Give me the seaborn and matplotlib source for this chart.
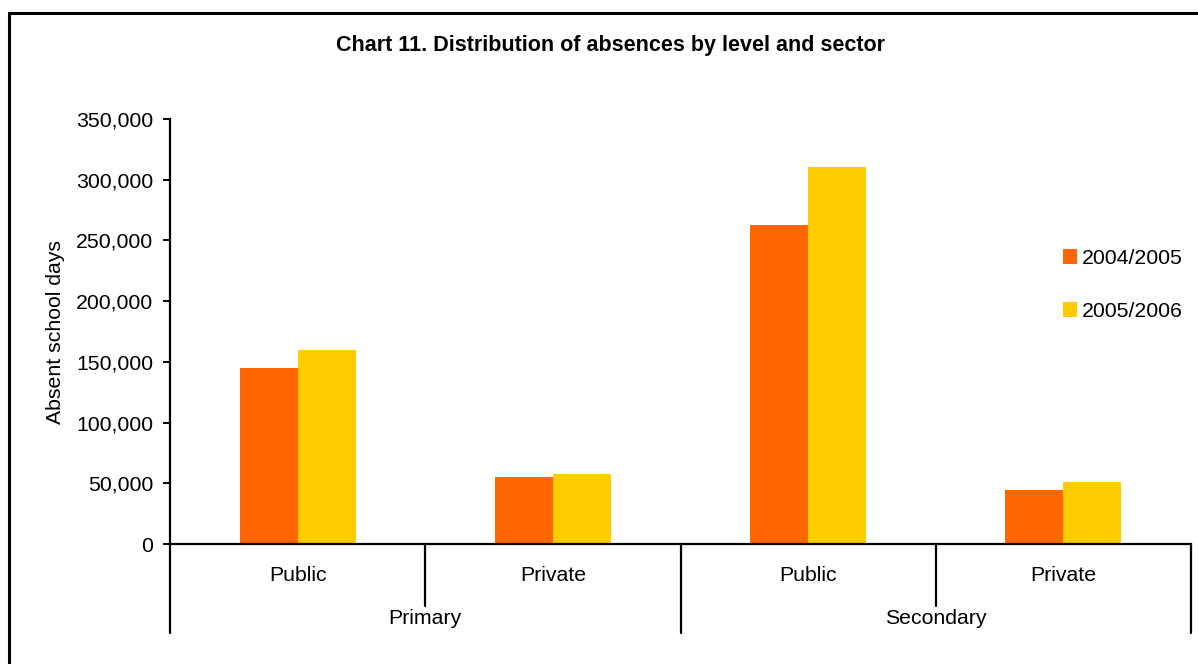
import matplotlib
matplotlib.use("Agg")
import matplotlib.pyplot as plt
import matplotlib.ticker as mticker
from matplotlib.patches import Rectangle
import seaborn as sns
import pandas as pd

# ---- data ----
levels = ["Primary", "Primary", "Secondary", "Secondary"]
sectors = ["Public", "Private", "Public", "Private"]
years = ["2004/2005", "2005/2006"]
values_2004_2005 = [145000, 55000, 263000, 44500]
values_2005_2006 = [160000, 57800, 310500, 51000]
group_labels = ["Primary", "Secondary"]
title = "Chart 11. Distribution of absences by level and sector"
ylabel = "Absent school days"
colors = ["#FF6600", "#FFCC00"]

keys = [f"{l} {s}" for l, s in zip(levels, sectors)]
df = pd.DataFrame({
    "key": keys * 2,
    "year": [years[0]] * 4 + [years[1]] * 4,
    "value": values_2004_2005 + values_2005_2006,
})

sns.set_style("white")
plt.rcParams["font.family"] = ["Liberation Sans", "DejaVu Sans"]
plt.rcParams["text.color"] = "black"
plt.rcParams["axes.labelcolor"] = "black"
plt.rcParams["xtick.color"] = "black"
plt.rcParams["ytick.color"] = "black"

FS = 15.3
W, H = 1198, 664
fig = plt.figure(figsize=(W / 100, H / 100), dpi=100)
ax_l, ax_r, ax_t, ax_b = 170, 1191, 119, 544
ax = fig.add_axes([ax_l / W, 1 - ax_b / H, (ax_r - ax_l) / W, (ax_b - ax_t) / H])

sns.barplot(data=df, x="key", y="value", hue="year", order=keys, hue_order=years,
            palette=colors, width=0.455, saturation=1, linewidth=0, ax=ax)

ax.set_xlim(-0.5, 3.5)
ax.set_ylim(0, 350000)
ax.set_yticks(range(0, 350001, 50000))
ax.yaxis.set_major_formatter(mticker.FuncFormatter(lambda v, p: f"{int(v):,}"))
ax.set_xticks(range(4))
ax.set_xticklabels(sectors)
ax.set_xlabel("")
ax.set_ylabel(ylabel, fontsize=FS, va="center", color="black")
ax.yaxis.set_label_coords((56 - ax_l) / (ax_r - ax_l), 0.5)

for s in ["top", "right"]:
    ax.spines[s].set_visible(False)
for s in ["left", "bottom"]:
    ax.spines[s].set_linewidth(1.6)
    ax.spines[s].set_color("black")

ax.tick_params(axis="y", length=5, width=1.4, direction="out", pad=7,
               labelsize=FS, left=True, colors="black")
ax.tick_params(axis="x", length=0, pad=16, labelsize=FS, colors="black")

# hierarchical separators
axh = ax_b - ax_t
short = -(606 - ax_b) / axh
long_ = -(633 - ax_b) / axh
trans = ax.get_xaxis_transform()
for xb in [-0.5, 0.5, 1.5, 2.5, 3.5]:
    yb = short if xb in (0.5, 2.5) else long_
    ax.plot([xb, xb], [0, yb], color="black", lw=1.6, transform=trans, clip_on=False)

for i, g in enumerate(group_labels):
    ax.text(0.5 + 2 * i, -(618 - ax_b) / axh, g, transform=trans, ha="center",
            va="center", fontsize=FS, color="black")

fig.text(611 / W, 1 - 45.5 / H, title, ha="center", va="center",
         fontsize=15.5, fontweight="bold", color="black")

leg = ax.legend(loc="center left", bbox_to_anchor=(1063 / W, 1 - 285 / H),
                bbox_transform=fig.transFigure, frameon=False, fontsize=FS,
                handlelength=0.65, handleheight=0.65, handletextpad=0.25,
                labelspacing=1.6, borderpad=0, borderaxespad=0, title=None)
for t in leg.get_texts():
    t.set_color("black")

fig.add_artist(Rectangle((9 / W, -0.2), 1.5, (H - 13) / H + 0.2,
                         transform=fig.transFigure, fill=False,
                         lw=2.2, edgecolor="black"))

fig.savefig("out.png", dpi=100, facecolor="white")
